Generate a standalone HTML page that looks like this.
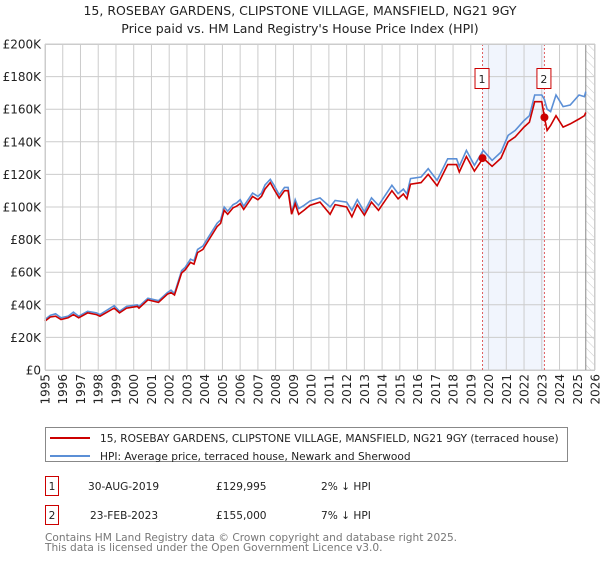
<!DOCTYPE html>
<html><head><meta charset="utf-8"><style>
body{margin:0;background:#fff;font-family:"DejaVu Sans","Liberation Sans",sans-serif;}
svg text{font-family:"DejaVu Sans","Liberation Sans",sans-serif;}
</style></head><body>
<svg id="chart" width="600" height="560" xmlns="http://www.w3.org/2000/svg">
<text x="300" y="15" text-anchor="middle" font-size="12.5" fill="#222">15, ROSEBAY GARDENS, CLIPSTONE VILLAGE, MANSFIELD, NG21 9GY</text>
<text x="300" y="33" text-anchor="middle" font-size="12.5" fill="#222">Price paid vs. HM Land Registry's House Price Index (HPI)</text>
<defs><pattern id="hatch" width="6" height="6" patternUnits="userSpaceOnUse" patternTransform="rotate(-45)"><line x1="0" y1="0" x2="0" y2="6" stroke="#ccc" stroke-width="1"/></pattern></defs>
<g id="plot"></g>
<g>
<rect x="45.5" y="427.5" width="522" height="34" fill="#fff" stroke="#888"/>
<line x1="50" y1="438" x2="90" y2="438" stroke="#cc0000" stroke-width="2"/>
<text x="100" y="442" font-size="10.6" fill="#222">15, ROSEBAY GARDENS, CLIPSTONE VILLAGE, MANSFIELD, NG21 9GY (terraced house)</text>
<line x1="50" y1="456" x2="90" y2="456" stroke="#5b8fd6" stroke-width="2"/>
<text x="100" y="460" font-size="10.6" fill="#222">HPI: Average price, terraced house, Newark and Sherwood</text>
</g>
<g font-size="10.6" fill="#222">
<rect x="45.5" y="476.5" width="13" height="19" fill="#fff" stroke="#cc0000"/>
<text x="52" y="490" text-anchor="middle">1</text>
<text x="88" y="490">30-AUG-2019</text><text x="216" y="490">£129,995</text><text x="321" y="490">2% ↓ HPI</text>
</g>
<g font-size="10.6" fill="#222">
<rect x="45.5" y="505.5" width="13" height="19" fill="#fff" stroke="#cc0000"/>
<text x="52" y="519" text-anchor="middle">2</text>
<text x="90" y="519">23-FEB-2023</text><text x="216" y="519">£155,000</text><text x="321" y="519">7% ↓ HPI</text>
</g>
<text x="45" y="541" font-size="10.6" fill="#777">Contains HM Land Registry data © Crown copyright and database right 2025.</text>
<text x="45" y="551" font-size="10.6" fill="#777">This data is licensed under the Open Government Licence v3.0.</text>
</svg>
<script>
const yearsX=[1995.0,1995.3,1995.6,1995.9,1996.3,1996.6,1996.9,1997.4,1997.9,1998.1,1998.9,1999.2,1999.6,2000.2,2000.3,2000.8,2001.4,2001.9,2002.1,2002.3,2002.7,2002.9,2003.2,2003.4,2003.6,2003.9,2004.3,2004.7,2004.9,2005.1,2005.3,2005.6,2005.8,2006.0,2006.2,2006.7,2007.0,2007.2,2007.4,2007.7,2007.9,2008.2,2008.5,2008.7,2008.9,2009.1,2009.3,2009.6,2009.93,2010.5,2011.07,2011.35,2012.0,2012.3,2012.6,2013.0,2013.4,2013.8,2014.55,2014.9,2015.2,2015.4,2015.6,2016.2,2016.6,2017.1,2017.7,2018.2,2018.35,2018.75,2019.2,2019.7,2020.2,2020.7,2021.1,2021.5,2022.0,2022.3,2022.6,2023.0,2023.15,2023.3,2023.5,2023.8,2024.2,2024.6,2025.1,2025.4,2025.48];
const hpiValues=[31,33.5,34.5,32,33,35.5,33,36,35,34,39.5,36,39,40,39,44,42.5,47.5,49,47,61,63,68,67,74,76,83,90,92,100,97.5,101.5,102.5,104.5,100.5,108.5,106.5,108.5,113.5,117,113.5,107.5,112,112,96.5,104.5,99,101,103.6,105.6,100,104,103,98,104.5,97,105.6,101,113.3,108.2,111,108,117.4,118.4,123.5,116.3,129.6,129.6,125,134.7,125.5,134.7,128.6,133.7,143.9,147,153,156,168.7,168.7,166,160,158.5,168.7,161.6,162.6,168.7,167.7,170.8];
const priceValues=[30,32.5,33,31,32,34,32,35,34,33,38,35,38,39,38,43,41.5,46.5,47.5,46,59.5,61.5,66,65,72,74,81,88,90,98,95.5,99.5,100.5,102,98.5,106.5,104.5,106.5,111,115,111,105.5,110,110,95.5,102,95.5,98,101,103,95.5,101.5,100,94,101.5,95,103,98,110,105,108,105,114,115,120,113,126,126,121.5,131,122,130,125,130,140,143,149,152,164.6,164.6,155,147,150,156,149,151,154,156,158];
const yTicks=[0,20,40,60,80,100,120,140,160,180,200];
const yTickLabels=["£0","£20K","£40K","£60K","£80K","£100K","£120K","£140K","£160K","£180K","£200K"];
const xTickYears=[1995,1996,1997,1998,1999,2000,2001,2002,2003,2004,2005,2006,2007,2008,2009,2010,2011,2012,2013,2014,2015,2016,2017,2018,2019,2020,2021,2022,2023,2024,2025,2026];
const sales=[{t:2019.66,v:129.995,label:"1"},{t:2023.15,v:155,label:"2"}];
const dataEnd=2025.48;

const L=45,R=595,T=44,B=370;
const X=t=>L+(t-1995)/(2026-1995)*(R-L);
const Y=v=>B-v/200*(B-T);
const NS="http://www.w3.org/2000/svg";
const g=document.getElementById('plot');
function mk(tag,attrs){const e=document.createElementNS(NS,tag);for(const k in attrs)e.setAttribute(k,attrs[k]);g.appendChild(e);return e;}

let e=mk('rect',{x:X(sales[0].t),y:T,width:X(sales[1].t)-X(sales[0].t),height:B-T,fill:'#eef3fc',opacity:0.8});


e=mk('rect',{x:X(dataEnd),y:T,width:R-X(dataEnd),height:B-T,fill:'url(#hatch)'});


yTicks.forEach((v,i)=>{
  e=mk('line',{x1:L,x2:R,y1:Y(v),y2:Y(v),stroke:'#ccc','stroke-width':1});
  
  
  e=mk('text',{x:L-4,y:Y(v)+4.5,'text-anchor':'end','font-size':12,fill:'#222'});
  e.textContent=yTickLabels[i];
  
  
});
xTickYears.forEach(yr=>{
  e=mk('line',{x1:X(yr),x2:X(yr),y1:T,y2:B,stroke:'#ccc','stroke-width':1});
  
  
  e=mk('text',{x:0,y:0,'text-anchor':'end','font-size':12,fill:'#222',transform:`translate(${X(yr)+4.5},${B+4}) rotate(-90)`});
  e.textContent=yr;
  
  
});
e=mk('line',{x1:X(dataEnd),x2:X(dataEnd),y1:T,y2:B,stroke:'#888','stroke-width':1});


sales.forEach(s=>{
  e=mk('line',{x1:X(s.t),x2:X(s.t),y1:T,y2:B,stroke:'#e06060','stroke-width':1,'stroke-dasharray':'2,2'});
  
  
});
const pts=(vals)=>yearsX.map((t,i)=>X(t).toFixed(1)+','+Y(vals[i]).toFixed(1)).join(' ');
e=mk('polyline',{points:pts(hpiValues),fill:'none',stroke:'#5b8fd6','stroke-width':1.6});


e=mk('polyline',{points:pts(priceValues),fill:'none',stroke:'#cc0000','stroke-width':1.6});


sales.forEach(s=>{
  e=mk('circle',{cx:X(s.t),cy:Y(s.v),r:4,fill:'#cc0000'});
  
  
  e=mk('rect',{x:X(s.t)-7.5,y:68.5,width:14,height:20,fill:'#fff',stroke:'#cc0000'});
  
  
  e=mk('text',{x:X(s.t)-0.5,y:83,'text-anchor':'middle','font-size':11,fill:'#222'});
  e.textContent=s.label;
  
  
});
e=mk('rect',{x:L+0.5,y:T+0.5,width:R-L-1,height:B-T,fill:'none',stroke:'#ccc'});


</script>
</body></html>
